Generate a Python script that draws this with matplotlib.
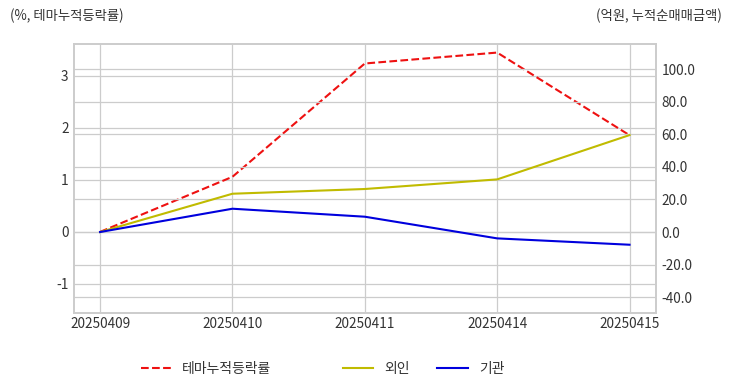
import numpy as np
import matplotlib.pyplot as plt
from matplotlib.lines import Line2D

plt.rcParams['font.family'] = ['Noto Sans CJK KR', 'DejaVu Sans']

dates = ['20250409', '20250410', '20250411', '20250414', '20250415']
theme_rate = [0.0, 1.06, 3.24, 3.45, 1.86]      # %, left axis
foreign = [0.0, 23.5, 26.4, 32.3, 59.5]          # 억원, right axis
institution = [0.0, 14.3, 9.4, -3.9, -7.8]       # 억원, right axis

grid_c = '#cccccc'
text_c = '#333333'

fig = plt.figure(figsize=(7.32, 3.92), dpi=100)
ax1 = fig.add_axes([74/732, 1 - 313/392, (656-74)/732, (313-44)/392])
ax2 = ax1.twinx()

x = np.arange(len(dates))
ax1.plot(x, theme_rate, color='#ee1111', linestyle='--', linewidth=1.5, zorder=3)
ax2.plot(x, foreign, color='#c0bb00', linewidth=1.5)
ax2.plot(x, institution, color='#0000dd', linewidth=1.5)

ax1.set_xlim(-0.197, 4.2)
ax1.set_ylim(-1.56, 3.615)
ax2.set_ylim(-49.7, 115.4)

ax1.set_xticks(x)
ax1.set_xticklabels(dates)
ax1.set_yticks([-1, 0, 1, 2, 3])
ax1.set_yticklabels(['-1', '0', '1', '2', '3'])
r_ticks = [-40, -20, 0, 20, 40, 60, 80, 100]
ax2.set_yticks(r_ticks)
ax2.set_yticklabels(['%.1f' % v for v in r_ticks])

for ax in (ax1, ax2):
    ax.grid(True, color=grid_c, linewidth=0.9)
    ax.set_axisbelow(True)
    ax.tick_params(length=0, labelsize=9.8, labelcolor=text_c)
    for s in ax.spines.values():
        s.set_color(grid_c)
        s.set_linewidth(1.2)
ax2.grid(True, axis='y', color=grid_c, linewidth=0.9)
ax2.grid(False, axis='x')
ax1.tick_params(axis='y', pad=4)
ax1.tick_params(axis='x', pad=3)
ax2.tick_params(axis='y', pad=4)

fig.text(10/732, 1 - 16/392, '(%, 테마누적등락률)', fontsize=9.6, color=text_c,
         ha='left', va='center')
fig.text(722/732, 1 - 16/392, '(억원, 누적순매매금액)', fontsize=9.6, color=text_c,
         ha='right', va='center')

h1 = [Line2D([], [], color='#ee1111', linestyle='--', linewidth=1.5)]
h2 = [Line2D([], [], color='#c0bb00', linewidth=1.5),
      Line2D([], [], color='#0000dd', linewidth=1.5)]
leg1 = fig.legend(h1, ['테마누적등락률'], loc='center left',
                  bbox_to_anchor=(128/732, 1 - 369/392), frameon=False,
                  fontsize=10, handlelength=2.2)
leg2 = fig.legend(h2, ['외인', '기관'], loc='center left',
                  bbox_to_anchor=(330/732, 1 - 369/392), frameon=False,
                  fontsize=10, ncol=2, handlelength=2.2, columnspacing=2.0)
for lg in (leg1, leg2):
    for t in lg.get_texts():
        t.set_color(text_c)

fig.savefig('out.png', dpi=100)
